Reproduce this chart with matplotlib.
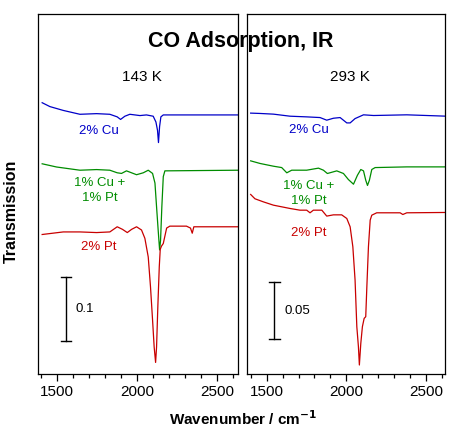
import matplotlib
matplotlib.use("Agg")
import matplotlib.pyplot as plt
from matplotlib.ticker import MultipleLocator

plt.rcParams['font.family'] = ['Liberation Sans', 'DejaVu Sans']

# ---------------- data: 143 K panel ----------------
wn_cu_143 = [1406, 1454, 1538, 1642, 1746, 1829, 1875, 1896, 1923, 1954, 2017, 2058, 2100,
             2117, 2127, 2133, 2140, 2148, 2163, 2630]
t_cu_143 = [0.422, 0.416, 0.410, 0.404, 0.405, 0.404, 0.400, 0.396, 0.401, 0.404, 0.402, 0.403, 0.401,
            0.392, 0.379, 0.360, 0.385, 0.400, 0.403, 0.403]

wn_cupt_143 = [1406, 1496, 1642, 1746, 1829, 1875, 1902, 1933, 1996, 2038, 2069, 2096, 2111,
               2121, 2131, 2140, 2146, 2154, 2163, 2173, 2630]
t_cupt_143 = [0.327, 0.322, 0.317, 0.318, 0.317, 0.313, 0.312, 0.316, 0.310, 0.313, 0.317, 0.312, 0.297,
              0.260, 0.224, 0.193, 0.208, 0.260, 0.307, 0.316, 0.317]

wn_pt_143 = [1406, 1538, 1642, 1746, 1829, 1875, 1908, 1938, 1965, 1996, 2027, 2048, 2069, 2083,
             2096, 2106, 2115, 2121, 2129, 2138, 2144, 2152, 2163, 2184, 2204, 2308, 2333, 2344,
             2354, 2630]
t_pt_143 = [0.217, 0.221, 0.221, 0.220, 0.221, 0.229, 0.225, 0.220, 0.225, 0.229, 0.224, 0.211, 0.182, 0.136,
            0.084, 0.042, 0.018, 0.042, 0.105, 0.167, 0.194, 0.199, 0.203, 0.227, 0.230, 0.230, 0.227, 0.219,
            0.229, 0.229]

# ---------------- data: 293 K panel ----------------
wn_cu_293 = [1399, 1458, 1542, 1646, 1751, 1835, 1877, 1919, 1961, 2003, 2024, 2055, 2108, 2171, 2380, 2630]
t_cu_293 = [0.2290, 0.2287, 0.2281, 0.2263, 0.2257, 0.2251, 0.2228, 0.2245, 0.2251, 0.2204, 0.2204,
            0.2242, 0.2275, 0.2269, 0.2275, 0.2263]

wn_cupt_293 = [1399, 1458, 1542, 1594, 1626, 1657, 1751, 1825, 1856, 1881, 1940, 1982, 2013, 2045,
               2070, 2091, 2108, 2122, 2133, 2145, 2160, 2181, 2380, 2630]
t_cupt_293 = [0.1871, 0.1848, 0.1824, 0.1812, 0.1766, 0.1789, 0.1789, 0.1807, 0.1789, 0.1760, 0.1783,
              0.1760, 0.1707, 0.1666, 0.1745, 0.1795, 0.1783, 0.1701, 0.1655, 0.1701, 0.1795, 0.1812,
              0.1818, 0.1818]

wn_pt_293 = [1399, 1426, 1479, 1542, 1646, 1709, 1751, 1772, 1793, 1846, 1877, 1919, 1971, 2003, 2024,
             2041, 2055, 2066, 2076, 2082, 2091, 2101, 2112, 2122, 2129, 2139, 2150, 2160, 2191, 2338,
             2355, 2380, 2630]
t_pt_293 = [0.1576, 0.1538, 0.1511, 0.1482, 0.1453, 0.1438, 0.1438, 0.1415, 0.1438, 0.1438, 0.1386,
            0.1397, 0.1397, 0.1365, 0.1292, 0.1117, 0.0824, 0.0415, 0.0240, 0.0079, 0.0269, 0.0415,
            0.0488, 0.0503, 0.0766, 0.1117, 0.1351, 0.1394, 0.1415, 0.1415, 0.1400, 0.1415, 0.1418]

labels = ["2% Cu", "1% Cu +\n1% Pt", "2% Pt"]
temps = ["143 K", "293 K"]
scale_values = [0.1, 0.05]
scale_labels = ["0.1", "0.05"]

BLUE = "#0000C8"
GREEN = "#008C00"
RED = "#C80000"
colors = [BLUE, GREEN, RED]

fig = plt.figure(figsize=(4.59, 4.38), dpi=100)
ax1 = fig.add_axes([38/459, 64/438, 200/459, 360/438])
ax2 = fig.add_axes([247/459, 64/438, 198/459, 360/438])

panels = [
    (ax1, [(wn_cu_143, t_cu_143), (wn_cupt_143, t_cupt_143), (wn_pt_143, t_pt_143)],
     (1380, 2630), (0, 0.56), [0.378, 0.285, 0.198], [1760, 1767, 1760], (1554, 0.051), 1615),
    (ax2, [(wn_cu_293, t_cu_293), (wn_cupt_293, t_cupt_293), (wn_pt_293, t_pt_293)],
     (1376, 2620), (0, 0.316), [0.214, 0.1587, 0.1240], [1762, 1765, 1765], (1548, 0.0304), 1611),
]

for i, (ax, series, xl, yl, ly, lx, (sbx, sby), slx) in enumerate(panels):
    for (w, t), c in zip(series, colors):
        ax.plot(w, t, color=c, lw=0.9)
    for lab, x, y, c in zip(labels, lx, ly, colors):
        ax.text(x, y, lab, color=c, ha='center', va='center', fontsize=9.5, linespacing=1.35)
    ax.set_xlim(*xl)
    ax.set_ylim(*yl)
    ax.set_yticks([])
    ax.xaxis.set_major_locator(MultipleLocator(500))
    ax.xaxis.set_minor_locator(MultipleLocator(100))
    ax.tick_params(axis='x', which='major', direction='out', length=5, width=0.9, labelsize=11, pad=3)
    ax.tick_params(axis='x', which='minor', direction='out', length=3, width=0.9)
    for s in ax.spines.values():
        s.set_linewidth(0.9)
    # scale bar
    sv = scale_values[i]
    ax.plot([sbx, sbx], [sby, sby + sv], color='black', lw=1.0)
    ax.plot([sbx - 33, sbx + 33], [sby, sby], color='black', lw=1.0)
    ax.plot([sbx - 33, sbx + 33], [sby + sv, sby + sv], color='black', lw=1.0)
    ax.text(slx, sby + sv / 2, scale_labels[i], ha='left', va='center', fontsize=9.5)
    ax.text(0.518, 0.824, temps[i], transform=ax.transAxes, ha='center', va='center', fontsize=11)

fig.text(241/459, 1 - 41/438, "CO Adsorption, IR", ha='center', va='center',
         fontsize=15.5, fontweight='bold')
fig.text(243/459, 1 - 419/438, r"Wavenumber / cm$^{\mathbf{-1}}$", ha='center', va='center',
         fontsize=11, fontweight='bold')
fig.text(11/459, 1 - 211/438, "Transmission", ha='center', va='center', rotation=90,
         fontsize=11.5, fontweight='bold')

fig.savefig("out.png", dpi=100)
